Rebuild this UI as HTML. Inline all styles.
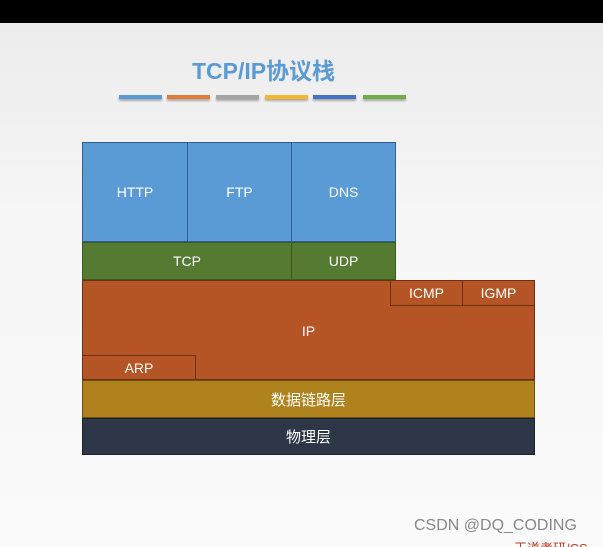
<!DOCTYPE html>
<html><head><meta charset="utf-8"><style>
html,body{margin:0;width:603px;height:547px;overflow:hidden}
body{background:linear-gradient(#ebebeb,#f6f6f6 40%,#fafafa);font-family:"Liberation Sans","Noto Sans CJK SC",sans-serif;position:relative}
.b{position:absolute;box-sizing:border-box;color:#fff;font-size:14px;display:flex;align-items:center;justify-content:center}
.bar{position:absolute;top:95px;height:4px;width:43px;box-shadow:0 2px 2px rgba(0,0,0,.3)}
</style></head><body>
<div style="position:absolute;left:0;top:0;width:603px;height:23px;background:#000"></div>
<div style="position:absolute;left:0;top:52px;width:527px;text-align:center;font-size:23px;font-weight:bold;color:#5b9bd5">TCP/IP协议栈</div>
<div class="bar" style="left:119px;background:#5b9bd5"></div>
<div class="bar" style="left:167px;background:#e07b39"></div>
<div class="bar" style="left:216px;background:#a5a5a5"></div>
<div class="bar" style="left:265px;background:#f5b82a"></div>
<div class="bar" style="left:313px;background:#4472c4"></div>
<div class="bar" style="left:363px;background:#70ad47"></div>

<div class="b" style="left:82px;top:142px;width:106px;height:100px;background:#5b9bd5;border:1px solid #2f5f8f">HTTP</div>
<div class="b" style="left:187px;top:142px;width:105px;height:100px;background:#5b9bd5;border:1px solid #2f5f8f">FTP</div>
<div class="b" style="left:291px;top:142px;width:105px;height:100px;background:#5b9bd5;border:1px solid #2f5f8f">DNS</div>
<div class="b" style="left:82px;top:242px;width:210px;height:38px;background:#557a32;border:1px solid #3a5a20">TCP</div>
<div class="b" style="left:291px;top:242px;width:105px;height:38px;background:#557a32;border:1px solid #3a5a20">UDP</div>
<div class="b" style="left:82px;top:280px;width:453px;height:100px;background:#b55424;border:1px solid #6a3010;padding-top:2px">IP</div>
<div class="b" style="left:390px;top:280px;width:73px;height:26px;background:#b55424;border:1px solid #6a3010">ICMP</div>
<div class="b" style="left:462px;top:280px;width:73px;height:26px;background:#b55424;border:1px solid #6a3010">IGMP</div>
<div class="b" style="left:82px;top:355px;width:114px;height:25px;background:#b55424;border:1px solid #6a3010">ARP</div>
<div class="b" style="left:82px;top:380px;width:453px;height:38px;background:#b0821d;border:1px solid #6a5010;font-size:15px">数据链路层</div>
<div class="b" style="left:82px;top:418px;width:453px;height:37px;background:#2e3747;border:1px solid #1a1f28;font-size:15px">物理层</div>

<div style="position:absolute;left:414px;top:517px;font-size:16px;color:#888">CSDN @DQ_CODING</div>
<div style="position:absolute;left:514px;top:538px;font-size:13px;color:#c0392b">王道考研/CS</div>
</body></html>
